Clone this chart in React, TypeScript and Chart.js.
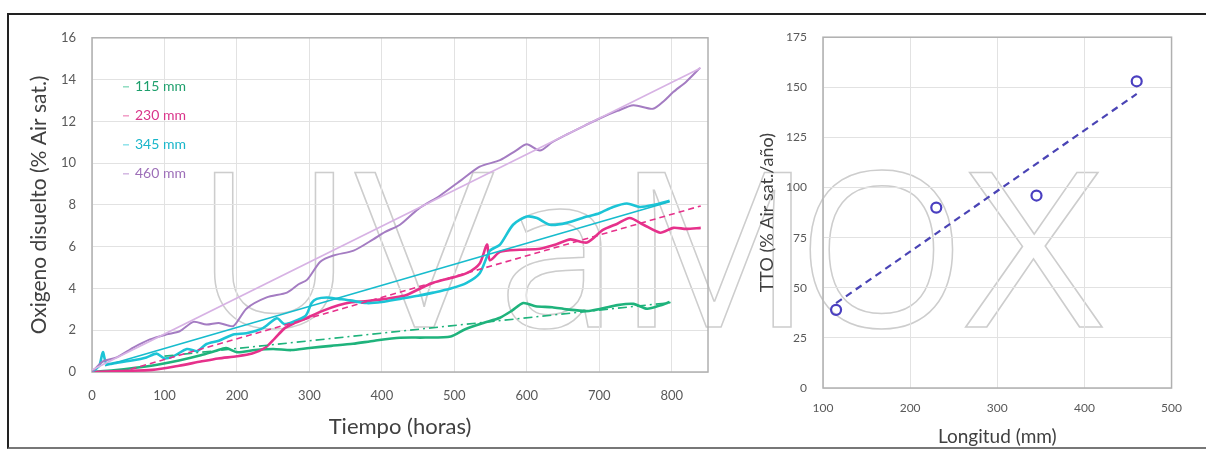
import React, { useEffect, useRef } from "react";
import { Chart, registerables } from "chart.js";

Chart.register(...registerables);

if (typeof document !== "undefined") {
  document.body.style.margin = "0";
  document.body.style.overflow = "hidden";
}

// ---------- Left chart data: dissolved oxygen vs time ----------
const seriesNames = ["115 mm", "230 mm", "345 mm", "460 mm"];

const t115 = [0, 30, 60, 90, 120, 150, 170, 185, 200, 225, 250, 275, 300, 330, 360, 390, 425, 460, 495, 515, 540, 563, 580, 595, 612, 635, 655, 683, 705, 725, 747, 766, 785, 797];
const o115 = [0, 0.08, 0.2, 0.35, 0.55, 0.8, 1.0, 1.15, 0.95, 1.05, 1.1, 1.05, 1.15, 1.25, 1.35, 1.5, 1.64, 1.65, 1.7, 2.05, 2.35, 2.6, 2.95, 3.3, 3.15, 3.1, 3.0, 2.92, 3.05, 3.2, 3.26, 3.03, 3.2, 3.35];

const t230 = [0, 40, 83, 120, 150, 174, 200, 221, 239, 252, 266, 280, 294, 320, 340, 358, 380, 405, 432, 450, 471, 495, 517, 535, 545, 549, 563, 590, 618, 640, 660, 683, 705, 725, 742, 761, 784, 802, 820, 840];
const o230 = [0, 0.05, 0.1, 0.3, 0.5, 0.65, 0.75, 0.88, 1.16, 1.6, 2.1, 2.35, 2.55, 2.95, 3.2, 3.34, 3.4, 3.5, 3.66, 3.95, 4.27, 4.5, 4.73, 5.2, 6.1, 5.35, 5.75, 5.85, 5.9, 6.1, 6.35, 6.2, 6.8, 7.1, 7.37, 7.05, 6.67, 6.9, 6.85, 6.9];

const t345 = [0, 10, 15, 20, 35, 57, 75, 89, 100, 112, 131, 145, 158, 175, 195, 213, 236, 255, 265, 277, 295, 303, 310, 324, 340, 356, 379, 400, 425, 450, 471, 495, 517, 535, 549, 563, 581, 600, 614, 632, 655, 683, 700, 719, 738, 756, 775, 797];
const o345 = [0, 0.3, 0.95, 0.4, 0.45, 0.56, 0.7, 0.88, 0.65, 0.75, 1.1, 1.0, 1.34, 1.5, 1.8, 1.86, 2.1, 2.57, 2.3, 2.4, 2.7, 3.3, 3.5, 3.57, 3.5, 3.43, 3.3, 3.35, 3.5, 3.65, 3.8, 4.0, 4.27, 4.73, 5.8, 6.1, 7.05, 7.44, 7.37, 7.05, 7.14, 7.44, 7.6, 7.9, 8.07, 7.9, 8.0, 8.2];

const t460 = [0, 11, 18, 34, 57, 80, 103, 121, 140, 158, 175, 195, 213, 241, 269, 285, 297, 315, 333, 361, 388, 404, 425, 450, 480, 510, 535, 563, 585, 600, 618, 635, 655, 680, 701, 725, 747, 774, 790, 802, 820, 839];
const o460 = [0, 0.4, 0.55, 0.7, 1.17, 1.56, 1.8, 1.95, 2.4, 2.27, 2.35, 2.2, 3.03, 3.57, 3.8, 4.2, 4.42, 5.28, 5.58, 5.81, 6.35, 6.7, 7.05, 7.8, 8.44, 9.2, 9.83, 10.14, 10.6, 10.9, 10.6, 11.0, 11.37, 11.8, 12.15, 12.5, 12.77, 12.6, 13.0, 13.4, 13.9, 14.56];

// linear fits (end points)
const fit115T = [100, 800];
const fit115O = [0.76, 3.33];
const fit230T = [40, 840];
const fit230O = [0.0, 7.95];
const fit345T = [18, 797];
const fit345O = [0.3, 8.15];
const fit460T = [0, 840];
const fit460O = [0.1, 14.55];

const timeTicks = [0, 100, 200, 300, 400, 500, 600, 700, 800];
const oxyTicks = [0, 2, 4, 6, 8, 10, 12, 14, 16];

// ---------- Right chart data: TTO vs length ----------
const lengthMm = [115, 230, 345, 460];
const ttoValues = [39, 90, 96, 153];
const trendLength = [115, 460];
const trendTto = [42.3, 146.7];
const lengthTicks = [100, 200, 300, 400, 500];
const ttoTicks = [0, 25, 50, 75, 100, 125, 150, 175];

// watermark letters
const watermarkLetters = ["U", "V", "a", "M", "O", "X"];

const COLORS = {
  g: "#1fb37c",
  p: "#e6318b",
  c: "#1cc4d6",
  v: "#a47cc2",
  vFit: "#d7b2e4",
  gText: "#1e9f6c",
  pText: "#d9348a",
  cText: "#19b6ca",
  vText: "#9d6fb8",
  grid: "#e2e2e2",
  frame: "#b0b0b0",
  tick: "#595959",
  title: "#404040",
  scatter: "#4a3fc0",
};

const zip = (xs: number[], ys: number[]) => xs.map((x, i) => ({ x, y: ys[i] }));

const frameAndLegend = (legend: boolean) => ({
  id: "frame" + (legend ? "L" : "R"),
  beforeDatasetsDraw(chart: any) {
    const { ctx, chartArea: a } = chart;
    ctx.save();
    ctx.strokeStyle = COLORS.frame;
    ctx.lineWidth = 1.5;
    ctx.strokeRect(a.left, a.top, a.right - a.left, a.bottom - a.top);
    ctx.restore();
  },
  afterDatasetsDraw(chart: any) {
    if (!legend) return;
    const { ctx, chartArea: a } = chart;
    const lineCols = ["#8fdcc0", "#f29cc6", "#8fe2ea", "#d3b8e2"];
    const txtCols = [COLORS.gText, COLORS.pText, COLORS.cText, COLORS.vText];
    ctx.save();
    ctx.font = "14px Lato";
    ctx.textBaseline = "middle";
    ctx.textAlign = "left";
    seriesNames.forEach((name, i) => {
      const y = a.top + 49 + i * 29;
      ctx.strokeStyle = lineCols[i];
      ctx.lineWidth = 1.5;
      ctx.beginPath();
      ctx.moveTo(a.left + 31, y);
      ctx.lineTo(a.left + 37, y);
      ctx.stroke();
      ctx.fillStyle = txtCols[i];
      ctx.fillText(name, a.left + 43, y);
    });
    ctx.restore();
  },
});

function LeftChart() {
  const ref = useRef<HTMLCanvasElement>(null);
  useEffect(() => {
    const noisy = (label: string, t: number[], o: number[], color: string, w: number) => ({
      label,
      data: zip(t, o),
      borderColor: color,
      borderWidth: w,
      pointRadius: 0,
      tension: 0.25,
      fill: false,
    });
    const fit = (t: number[], o: number[], color: string, w: number, dash: number[]) => ({
      label: "fit",
      data: zip(t, o),
      borderColor: color,
      borderWidth: w,
      borderDash: dash,
      pointRadius: 0,
      fill: false,
    });
    const chart = new Chart(ref.current!, {
      type: "line",
      data: {
        datasets: [
          fit(fit460T, fit460O, COLORS.vFit, 1.6, []),
          fit(fit345T, fit345O, "#17bccd", 1.6, []),
          fit(fit230T, fit230O, COLORS.p, 1.6, [6, 4]),
          fit(fit115T, fit115O, COLORS.g, 1.6, [9, 4, 2, 4]),
          noisy(seriesNames[3], t460, o460, COLORS.v, 2),
          noisy(seriesNames[2], t345, o345, COLORS.c, 2.6),
          noisy(seriesNames[1], t230, o230, COLORS.p, 2.6),
          noisy(seriesNames[0], t115, o115, COLORS.g, 2.6),
        ] as any,
      },
      options: {
        animation: false,
        responsive: false,
        layout: { padding: { top: 13, right: 10, left: 0, bottom: 0 } },
        plugins: { legend: { display: false }, tooltip: { enabled: false } },
        scales: {
          x: {
            type: "linear",
            min: 0,
            max: 850,
            afterBuildTicks: (s: any) => {
              s.ticks = timeTicks.map((v) => ({ value: v }));
            },
            afterFit: (s: any) => {
              s.height = 72;
            },
            grid: { color: COLORS.grid, drawTicks: false },
            border: { display: false },
            ticks: { color: COLORS.tick, font: { size: 13, family: "Lato" }, padding: 16, maxRotation: 0 },
            title: {
              display: true,
              text: "Tiempo (horas)",
              color: COLORS.title,
              font: { size: 22, family: "Lato" },
              padding: { top: 0, bottom: 4 },
            },
          },
          y: {
            type: "linear",
            min: 0,
            max: 16,
            afterBuildTicks: (s: any) => {
              s.ticks = oxyTicks.map((v) => ({ value: v }));
            },
            afterFit: (s: any) => {
              s.width = 80;
            },
            grid: { color: COLORS.grid, drawTicks: false },
            border: { display: false },
            ticks: { color: COLORS.tick, font: { size: 13, family: "Lato" }, padding: 16 },
            title: {
              display: true,
              text: "Oxigeno disuelto (% Air sat.)",
              color: COLORS.title,
              font: { size: 21, family: "Lato" },
              padding: { top: 15, bottom: 0 },
            },
          },
        },
      },
      plugins: [frameAndLegend(true)],
    });
    return () => chart.destroy();
  }, []);
  return (
    <canvas
      ref={ref}
      width={706}
      height={430}
      style={{ position: "absolute", left: 12, top: 14, width: 706, height: 430, zIndex: 1 }}
    />
  );
}

function RightChart() {
  const ref = useRef<HTMLCanvasElement>(null);
  useEffect(() => {
    const chart = new Chart(ref.current!, {
      type: "scatter",
      data: {
        datasets: [
          {
            label: "TTO",
            data: zip(lengthMm, ttoValues),
            pointStyle: "circle",
            pointRadius: 5,
            borderWidth: 2.2,
            borderColor: COLORS.scatter,
            backgroundColor: "rgba(255,255,255,0)",
          },
          {
            type: "line",
            label: "trend",
            data: zip(trendLength, trendTto),
            borderColor: "#4a44b5",
            borderWidth: 2.2,
            borderDash: [7, 5],
            pointRadius: 0,
            fill: false,
          },
        ] as any,
      },
      options: {
        animation: false,
        responsive: false,
        layout: { padding: { top: 23, right: 17, left: 0, bottom: 0 } },
        plugins: { legend: { display: false }, tooltip: { enabled: false } },
        scales: {
          x: {
            type: "linear",
            min: 100,
            max: 500,
            afterBuildTicks: (s: any) => {
              s.ticks = lengthTicks.map((v) => ({ value: v }));
            },
            afterFit: (s: any) => {
              s.height = 60;
            },
            grid: { color: COLORS.grid, drawTicks: false },
            border: { display: false },
            ticks: { color: COLORS.tick, font: { size: 12, family: "Lato" }, padding: 13, maxRotation: 0 },
            title: {
              display: true,
              text: "Longitud (mm)",
              color: COLORS.title,
              font: { size: 19, family: "Lato" },
              padding: { top: 0, bottom: 0 },
            },
          },
          y: {
            type: "linear",
            min: 0,
            max: 175,
            afterBuildTicks: (s: any) => {
              s.ticks = ttoTicks.map((v) => ({ value: v }));
            },
            afterFit: (s: any) => {
              s.width = 93;
            },
            grid: { color: COLORS.grid, drawTicks: false },
            border: { display: false },
            ticks: { color: COLORS.tick, font: { size: 12, family: "Lato" }, padding: 16 },
            title: {
              display: true,
              text: "TTO (% Air sat./año)",
              color: COLORS.title,
              font: { size: 18, family: "Lato" },
              padding: { top: 26, bottom: 0 },
            },
          },
        },
      },
      plugins: [frameAndLegend(false)],
    });
    return () => chart.destroy();
  }, []);
  return (
    <canvas
      ref={ref}
      width={465}
      height={434}
      style={{ position: "absolute", left: 730, top: 14, width: 465, height: 434, zIndex: 1 }}
    />
  );
}

// left edge of each watermark glyph box and its horizontal stretch
const watermarkLeft = [195, 355, 498, 617, 797, 965];
const watermarkStretch = [1, 1.07, 1, 1, 1, 1.1];

export default function App() {
  return (
    <div style={{ position: "relative", width: 1206, height: 450, overflow: "hidden", fontFamily: "Lato, sans-serif", background: "#fff" }}>
      <div
        style={{
          position: "absolute",
          left: 7,
          top: 13,
          width: 1199,
          height: 436,
          boxSizing: "border-box",
          borderTop: "2px solid #222",
          borderLeft: "2px solid #222",
          borderBottom: "2px solid #777",
          background: "#fff",
          zIndex: 0,
        }}
      />
      {watermarkLetters.map((ch, i) => (
        <div
          key={i}
          style={{
            position: "absolute",
            left: watermarkLeft[i],
            top: 135,
            fontFamily: "'Open Sans', sans-serif",
            fontSize: 217,
            lineHeight: 1,
            color: "transparent",
            WebkitTextStroke: "1.5px #cdcdcd",
            whiteSpace: "nowrap",
            transform: `scaleX(${watermarkStretch[i]})`,
            transformOrigin: "left top",
            zIndex: 0,
            userSelect: "none",
          }}
        >
          {ch}
        </div>
      ))}
      <LeftChart />
      <RightChart />
    </div>
  );
}
